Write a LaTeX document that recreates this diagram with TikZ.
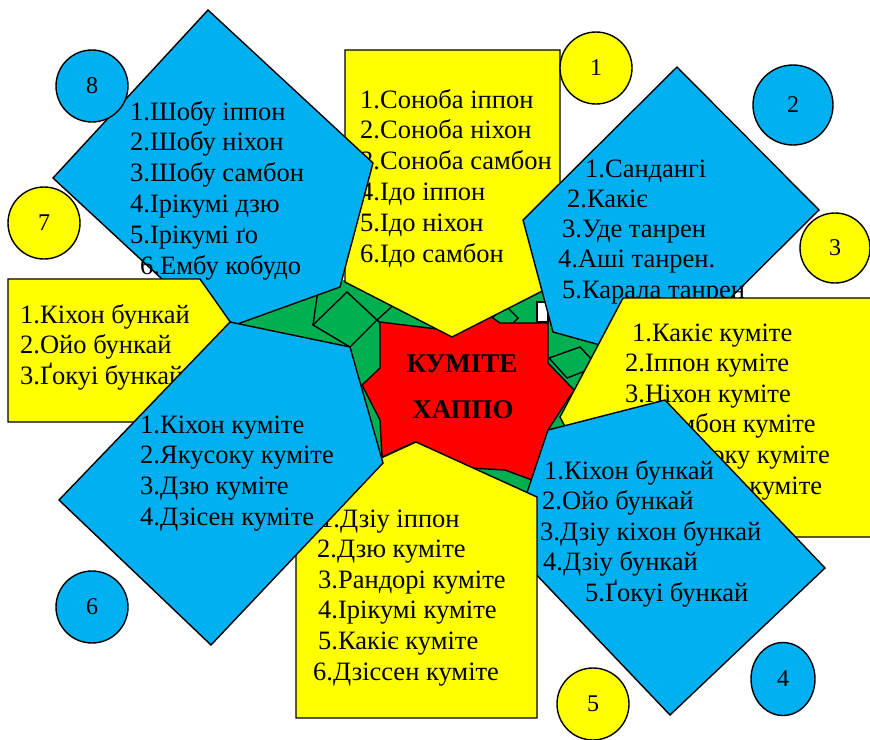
\documentclass[tikz,border=0pt]{standalone}
\usepackage{fontspec}
\setmainfont{Liberation Serif}
\usetikzlibrary{positioning,shapes.geometric}
\definecolor{kyellow}{HTML}{FFFF00}
\definecolor{kblue}{HTML}{00B0F0}
\definecolor{kred}{HTML}{FF0000}
\definecolor{kgreen}{HTML}{00B050}

\begin{document}
\begin{tikzpicture}[x=1pt,y=-1pt,
    ybox/.style={fill=kyellow,draw=black,line width=1.4pt},
    bbox/.style={fill=kblue,draw=black,line width=1.4pt},
    gbox/.style={fill=kgreen,draw=black,line width=1.4pt},
    txt/.style={anchor=base west,inner sep=0pt,font=\fontsize{26.5}{30}\selectfont},
    num/.style={circle,draw=black,line width=1.4pt,minimum size=72pt,inner sep=0pt,font=\fontsize{24}{28}\selectfont}]
    \clip (0,0) rectangle (870,739);

    % green gap round the centre
    \fill[kgreen] (235,323) -- (340,280) -- (560,280) -- (612,330) -- (600,440) -- (545,505) -- (430,495) -- (360,440) -- (340,350) -- cycle;
    \draw[gbox] (377,320) -- (420,281) -- (462,320) -- (420,360) -- cycle;
    \draw[gbox] (347,292) -- (377,320) -- (350,347) -- (313,325) -- cycle;
    \draw[line width=1.4pt] (313,325) -- (318,290);
    \draw[gbox] (505,305) -- (518,318) -- (505,331) -- (492,318) -- cycle;
    \draw[line width=1.4pt,fill=white] (537,302) rectangle (548,322);
    \draw[gbox] (549,358) -- (567,378) -- (598,366) -- (580,347) -- cycle;

    % centre
    \draw[line width=1.4pt,fill=kred] (380,322) -- (445,330) -- (490,316) -- (500,323) -- (548,323) -- (548,363) -- (574,390)
        -- (548,430) -- (532,480) -- (505,470) -- (470,468) -- (415,442) -- (382,457) -- (380,420) -- (362,385) -- (380,368) -- cycle;
    \node[anchor=base,font=\bfseries\fontsize{27}{30}\selectfont] (kumite) at (462,372) {КУМІТЕ};
    \node[anchor=base,font=\bfseries\fontsize{27}{30}\selectfont] (happo) at (463,418) {ХАППО};

    % 1
    \draw[ybox] (345,50) -- (560,50) -- (560,282) -- (452,337) -- (345,282) -- cycle;
    \foreach \x/\t [count=\i] in {360/1.Соноба іппон, 360/2.Соноба ніхон, 360/3.Соноба самбон,
        360/4.Ідо іппон, 360/5.Ідо ніхон, 360/6.Ідо самбон}
        \node[txt] (one-\i) at (\x,{108+30.8*(\i-1)}) {\t};

    % 2
    \draw[bbox] (677,67) -- (819,210) -- (665,363) -- (553,332) -- (523,220) -- cycle;
    \foreach \x/\t [count=\i] in {585/1.Сандангі, 567/2.Какіє, 562/3.Уде танрен, 558/4.Аші танрен., 562/5.Карала танрен}
        \node[txt] (two-\i) at (\x,{177+30.3*(\i-1)}) {\t};

    % 3
    \draw[ybox] (560,417) -- (623,298) -- (880,298) -- (880,537) -- (623,537) -- cycle;
    \foreach \x/\t [count=\i] in {632/1.Какіє куміте, 625/2.Іппон куміте, 625/3.Ніхон куміте,
        629/4.Самбон куміте, 636/5.Якусоку куміте, 648/6.Дзісен куміте}
        \node[txt] (three-\i) at (\x,{341+30.6*(\i-1)}) {\t};

    % 4
    \draw[bbox] (548,430) -- (665,400) -- (825,568) -- (670,715) -- (509,546) -- cycle;
    \foreach \x/\t [count=\i] in {544/1.Кіхон бункай, 542/2.Ойо бункай, 540/3.Дзіу кіхон бункай,
        543/4.Дзіу бункай, 585/5.Ґокуі бункай}
        \node[txt] (four-\i) at (\x,{479+30.5*(\i-1)}) {\t};

    % 5
    \draw[ybox] (416,442) -- (537,497) -- (537,718) -- (296,718) -- (296,497) -- cycle;
    \foreach \x/\t [count=\i] in {320/1.Дзіу іппон, 317/2.Дзю куміте, 318/3.Рандорі куміте,
        318/4.Ірікумі куміте, 318/5.Какіє куміте, 313/6.Дзіссен куміте}
        \node[txt] (five-\i) at (\x,{527+30.6*(\i-1)}) {\t};

    % 8
    \draw[bbox] (208,10) -- (373,163) -- (340,287) -- (218,331) -- (53,178) -- cycle;
    \foreach \x/\t [count=\i] in {130/1.Шобу іппон, 130/2.Шобу ніхон, 130/3.Шобу самбон,
        130/4.Ірікумі дзю, 130/5.Ірікумі ґо, 140/6.Ембу кобудо}
        \node[txt] (eight-\i) at (\x,{120+30.8*(\i-1)}) {\t};

    % 7
    \draw[ybox] (8,279) -- (200,279) -- (250,350) -- (200,422) -- (8,422) -- cycle;
    \foreach \x/\t [count=\i] in {20/1.Кіхон бункай, 20/2.Ойо бункай, 20/3.Ґокуі бункай}
        \node[txt] (seven-\i) at (\x,{323+30.5*(\i-1)}) {\t};

    % 6
    \draw[bbox] (230,322) -- (350,347) -- (383,463) -- (211,645) -- (59,500) -- cycle;
    \foreach \x/\t [count=\i] in {140/1.Кіхон куміте, 140/2.Якусоку куміте, 140/3.Дзю куміте, 140/4.Дзісен куміте}
        \node[txt] (six-\i) at (\x,{433+30.7*(\i-1)}) {\t};

    % numbers
    \node[num,fill=kyellow] (c1) at (596,68) {1};
    \node[num,fill=kblue,minimum size=80pt] (c2) at (793,105) {2};
    \node[num,fill=kyellow,minimum size=70pt] (c3) at (835,248) {3};
    \node[num,ellipse,fill=kblue,minimum width=64pt,minimum height=73pt] (c4) at (783,679) {4};
    \node[num,fill=kyellow] (c5) at (593,704) {5};
    \node[num,fill=kblue] (c6) at (92,607) {6};
    \node[num,fill=kyellow] (c7) at (44,223) {7};
    \node[num,fill=kblue] (c8) at (92,86) {8};
\end{tikzpicture}
\end{document}
